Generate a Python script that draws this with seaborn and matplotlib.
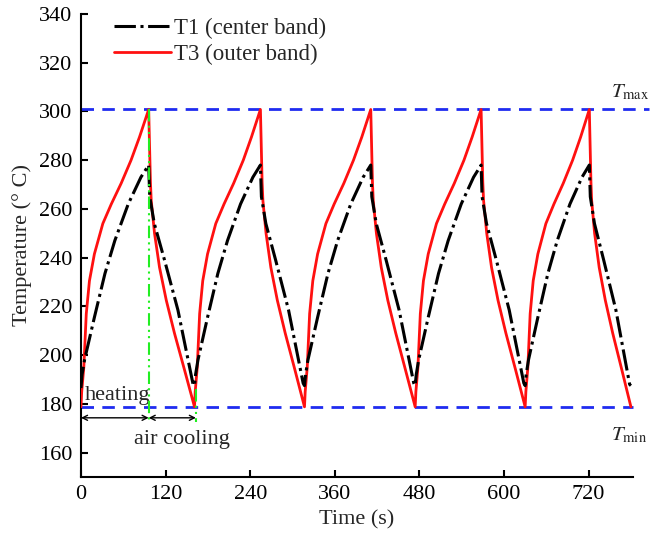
import numpy as np
import pandas as pd
import matplotlib
matplotlib.use("Agg")
import matplotlib.pyplot as plt
import seaborn as sns

# ---- data ----
t3_time = [
    0, 1, 4, 7.5, 12, 19, 31, 43, 57, 71, 83, 96,
    98.5, 99.6, 104.3, 111.4, 121, 132.6, 146.8,
    161, 162, 164.9, 168.3, 172.7, 179.5, 191.2, 202.9, 216.5, 230.2, 241.8, 254.5,
    256.9, 258, 262.5, 269.3, 278.5, 289.7, 303.4,
    317, 318, 320.9, 324.3, 328.8, 335.6, 347.4, 359.1, 372.8, 386.5, 398.3, 411,
    413.4, 414.5, 419, 425.9, 435.2, 446.5, 460.2,
    474, 475, 477.9, 481.3, 485.7, 492.5, 504.2, 515.9, 529.5, 543.2, 554.8, 567.5,
    569.9, 571, 575.5, 582.3, 591.5, 602.7, 616.4,
    630, 631, 633.8, 637.1, 641.4, 648, 659.4, 670.8, 684, 697.3, 708.7, 721,
    723.3, 724.3, 728.5, 735, 743.7, 754.2, 767.1, 780,
]
t3_outer = [
    178.8, 185, 195, 217, 230.5, 241.5, 254, 262, 270.5, 280, 289.5, 300.8,
    271, 263.5, 250, 236, 222.5, 209, 194,
    178.8, 185, 195, 217, 230.5, 241.5, 254, 262, 270.5, 280, 289.5, 300.8,
    271, 263.5, 250, 236, 222.5, 209, 194,
    178.8, 185, 195, 217, 230.5, 241.5, 254, 262, 270.5, 280, 289.5, 300.8,
    271, 263.5, 250, 236, 222.5, 209, 194,
    178.8, 185, 195, 217, 230.5, 241.5, 254, 262, 270.5, 280, 289.5, 300.8,
    271, 263.5, 250, 236, 222.5, 209, 194,
    178.8, 185, 195, 217, 230.5, 241.5, 254, 262, 270.5, 280, 289.5, 300.8,
    271, 263.5, 250, 236, 222.5, 209, 194, 178.8,
]

t1_time = [
    0, 1.5, 5, 19, 34, 48, 67, 85, 96,
    97.5, 104, 118.5, 137.5, 159,
    161, 162.5, 165.9, 179.5, 194.1, 207.8, 226.3, 243.8, 254.5,
    255.9, 262.2, 276.1, 294.4, 315.1,
    317, 318.5, 321.9, 335.6, 350.3, 364, 382.6, 400.2, 411,
    412.5, 418.8, 432.8, 451.2, 472,
    474, 475.5, 478.9, 492.5, 507.1, 520.8, 539.3, 556.8, 567.5,
    568.9, 575.2, 589.1, 607.4, 628.1,
    630, 631.4, 634.7, 648, 662.2, 675.5, 693.5, 710.6, 721,
    722.4, 728.3, 741.4, 758.7, 778.2, 780,
]
t1_center = [
    186.5, 192, 198, 215.5, 233.5, 247, 262, 273, 278,
    265, 254, 239, 218.5, 188,
    187.5, 192, 198, 215.5, 233.5, 247, 262, 273, 278,
    265, 254, 239, 218.5, 188.5,
    187.5, 192, 198, 215.5, 233.5, 247, 262, 273, 278,
    265, 254, 239, 218.5, 188.5,
    187.5, 192, 198, 215.5, 233.5, 247, 262, 273, 278,
    265, 254, 239, 218.5, 188.5,
    187.5, 192, 198, 215.5, 233.5, 247, 262, 273, 278,
    265, 254, 239, 218.5, 188, 187.5,
]

t_max_level = 300.8
t_min_level = 178.8
heating_end = 96
cooling_end = 163
arrow_level = 174.3

x_ticks = [0, 120, 240, 360, 480, 600, 720]
y_ticks = [160, 180, 200, 220, 240, 260, 280, 300, 320, 340]

# ---- styling ----
sns.set_style("ticks")
plt.rcParams["font.family"] = ["Liberation Serif", "DejaVu Serif"]
plt.rcParams["mathtext.fontset"] = "stix"

FS = 16

fig = plt.figure(figsize=(6.51, 5.36), dpi=100)
ax = fig.add_axes([0.1244, 0.110, 0.848, 0.864])

df1 = pd.DataFrame({"t": t1_time, "T": t1_center})
df3 = pd.DataFrame({"t": t3_time, "T": t3_outer})

sns.lineplot(data=df1, x="t", y="T", ax=ax, color="black", lw=2.2,
             linestyle=(0, (7, 1.5, 1, 1.5)), sort=False, estimator=None,
             label="T1 (center band)", zorder=4)
sns.lineplot(data=df3, x="t", y="T", ax=ax, color="#ff1010", lw=2.0,
             sort=False, estimator=None, label="T3 (outer band)", zorder=3)

blue = "#1f2cf0"
ax.plot([0, 806], [t_max_level, t_max_level], color=blue, lw=2,
        linestyle=(0, (4.5, 3)), clip_on=False, zorder=2)
ax.plot([0, 783], [t_min_level, t_min_level], color=blue, lw=2,
        linestyle=(0, (4.5, 3)), clip_on=False, zorder=2)

green = "#22ee22"
ax.plot([heating_end, heating_end], [t_max_level, 172.5], color=green, lw=1.5,
        linestyle=(0, (6, 2, 1, 2, 1, 2)), zorder=5)
ax.plot([cooling_end, cooling_end], [186, 172.5], color=green, lw=1.5,
        linestyle=(0, (6, 2, 1, 2, 1, 2)), zorder=5)

arrow_kw = dict(arrowstyle="<->", color="black", lw=1.0, shrinkA=0, shrinkB=0,
                mutation_scale=9)
ax.annotate("", xy=(0, arrow_level), xytext=(heating_end, arrow_level),
            arrowprops=arrow_kw)
ax.annotate("", xy=(heating_end, arrow_level), xytext=(cooling_end, arrow_level),
            arrowprops=arrow_kw)

ax.text(6, 181.8, "heating", fontsize=FS, ha="left", va="baseline")
ax.text(75, 163.4, "air cooling", fontsize=FS, ha="left", va="baseline")
ax.text(752, 305.9, r"$T_{\mathrm{max}}$", fontsize=15, ha="left",
        va="baseline", clip_on=False)
ax.text(752, 165, r"$T_{\mathrm{min}}$", fontsize=15, ha="left",
        va="baseline", clip_on=False)

ax.set_xlim(0, 783)
ax.set_ylim(150, 340)
ax.set_xticks(x_ticks)
ax.set_yticks(y_ticks)
ax.set_xlabel("Time (s)", fontsize=FS, labelpad=4)
ax.set_ylabel("Temperature (° C)", fontsize=FS, labelpad=5)
ax.tick_params(axis="both", direction="in", length=5, width=1.5,
               labelsize=FS, pad=6, color="black", labelcolor="black")
for side in ["top", "right"]:
    ax.spines[side].set_visible(False)
for side in ["left", "bottom"]:
    ax.spines[side].set_linewidth(1.5)
    ax.spines[side].set_color("black")

leg = ax.legend(loc="upper left", bbox_to_anchor=(0.060, 0.992), frameon=False,
                fontsize=16.5, handlelength=2.5, handletextpad=0.1,
                borderpad=0, borderaxespad=0, labelspacing=0.2)

fig.savefig("out.png", dpi=100)
